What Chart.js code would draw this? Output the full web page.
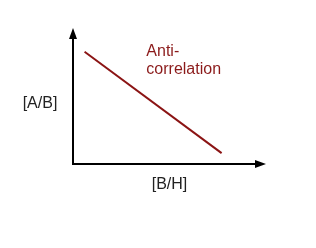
<!DOCTYPE html>
<html><head><meta charset="utf-8">
<script src="https://cdn.jsdelivr.net/npm/chart.js@4/dist/chart.umd.min.js"></script>
<style>html,body{margin:0;padding:0;background:#fff;}#wrap{width:316px;height:248px;}</style>
</head><body><div id="wrap"><canvas id="c" width="316" height="248"></canvas></div>
<script>
const xValues = [0.6, 7.7];
const yValues = [8.25, 0.8];
const xAxisLabel = "[B/H]";
const yAxisLabel = "[A/B]";
const annotationLines = ["Anti-", "correlation"];
const annotationAt = {x: 3.8, y: 7.95};

const axesPlugin = {
  id: 'axesArrows',
  afterDraw(chart) {
    const {ctx, chartArea: a, scales} = chart;
    const x0 = a.left, y0 = a.bottom;
    ctx.save();
    ctx.strokeStyle = '#000'; ctx.fillStyle = '#000'; ctx.lineWidth = 2;
    ctx.beginPath();
    ctx.moveTo(x0, a.top + 8); ctx.lineTo(x0, y0); ctx.lineTo(a.right - 8, y0);
    ctx.stroke();
    // y arrow
    ctx.beginPath();
    ctx.moveTo(x0, a.top); ctx.lineTo(x0 - 4, a.top + 11); ctx.lineTo(x0 + 4, a.top + 11); ctx.closePath(); ctx.fill();
    // x arrow
    ctx.beginPath();
    ctx.moveTo(a.right, y0); ctx.lineTo(a.right - 11, y0 - 4); ctx.lineTo(a.right - 11, y0 + 4); ctx.closePath(); ctx.fill();
    // axis labels
    ctx.font = '16px "Liberation Sans", Arial, sans-serif';
    ctx.fillStyle = '#222';
    ctx.textAlign = 'center'; ctx.textBaseline = 'middle';
    ctx.fillText(yAxisLabel, x0 - 33, (a.top + a.bottom) / 2 + 8);
    ctx.fillText(xAxisLabel, (a.left + a.right) / 2, y0 + 21);
    // annotation
    ctx.fillStyle = '#8b1a1a';
    ctx.textAlign = 'left'; ctx.textBaseline = 'alphabetic';
    const ax = scales.x.getPixelForValue(annotationAt.x);
    const ay = scales.y.getPixelForValue(annotationAt.y);
    annotationLines.forEach((t, i) => ctx.fillText(t, ax, ay + i * 18));
    ctx.restore();
  }
};

new Chart(document.getElementById('c'), {
  type: 'line',
  data: {
    datasets: [{
      data: xValues.map((x, i) => ({x: x, y: yValues[i]})),
      borderColor: '#8b1414',
      borderWidth: 2,
      pointRadius: 0,
      fill: false
    }]
  },
  options: {
    responsive: false,
    animation: false,
    devicePixelRatio: 1,
    layout: {padding: {left: 73, right: 50, top: 28, bottom: 84}},
    plugins: {legend: {display: false}, tooltip: {enabled: false}},
    scales: {
      x: {type: 'linear', min: 0, max: 10, display: false},
      y: {type: 'linear', min: 0, max: 10, display: false}
    }
  },
  plugins: [axesPlugin]
});
</script></body></html>
